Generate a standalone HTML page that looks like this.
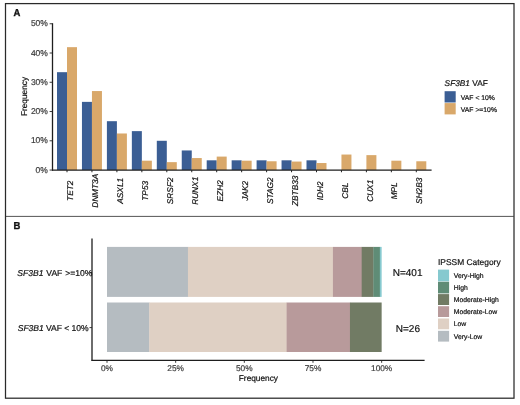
<!DOCTYPE html>
<html lang="en"><head><meta charset="utf-8"><title>SF3B1 VAF figure</title>
<style>html,body{margin:0;padding:0;background:#fff;}body{width:520px;height:405px;overflow:hidden;}svg{display:block;}text{font-family:"Liberation Sans",Arial,Helvetica,sans-serif;text-rendering:geometricPrecision;}</style></head><body>
<svg width="520" height="405" viewBox="0 0 520 405" style="will-change:transform;opacity:0.999">
<rect x="0" y="0" width="520" height="405" fill="#ffffff"/>
<rect x="5.5" y="3.6" width="508.5" height="394.6" fill="none" stroke="#2a2a2a" stroke-width="1.25"/>
<line x1="5.5" y1="216.4" x2="513.8" y2="216.4" stroke="#2a2a2a" stroke-width="0.8"/>
<text transform="translate(13.5,16.4) scale(0.94,1)" font-size="10.1" font-weight="700" fill="#111" stroke="#111" stroke-width="0.35">A</text>
<text transform="translate(13.4,228.7) scale(0.94,1)" font-size="10.1" font-weight="700" fill="#111" stroke="#111" stroke-width="0.35">B</text>
<rect x="57.00" y="72.18" width="10" height="97.87" fill="#3b5e94"/>
<rect x="67.00" y="47.16" width="10" height="122.89" fill="#d9a86a"/>
<rect x="81.95" y="101.87" width="10" height="68.18" fill="#3b5e94"/>
<rect x="91.95" y="91.05" width="10" height="79.00" fill="#d9a86a"/>
<rect x="106.90" y="121.19" width="10" height="48.86" fill="#3b5e94"/>
<rect x="116.90" y="133.48" width="10" height="36.58" fill="#d9a86a"/>
<rect x="131.85" y="131.13" width="10" height="38.92" fill="#3b5e94"/>
<rect x="141.85" y="160.69" width="10" height="9.36" fill="#d9a86a"/>
<rect x="156.80" y="140.79" width="10" height="29.26" fill="#3b5e94"/>
<rect x="166.80" y="162.15" width="10" height="7.90" fill="#d9a86a"/>
<rect x="181.75" y="150.45" width="10" height="19.60" fill="#3b5e94"/>
<rect x="191.75" y="158.05" width="10" height="12.00" fill="#d9a86a"/>
<rect x="206.70" y="160.31" width="10" height="9.74" fill="#3b5e94"/>
<rect x="216.70" y="156.59" width="10" height="13.46" fill="#d9a86a"/>
<rect x="231.65" y="160.31" width="10" height="9.74" fill="#3b5e94"/>
<rect x="241.65" y="160.69" width="10" height="9.36" fill="#d9a86a"/>
<rect x="256.60" y="160.31" width="10" height="9.74" fill="#3b5e94"/>
<rect x="266.60" y="161.27" width="10" height="8.78" fill="#d9a86a"/>
<rect x="281.55" y="160.31" width="10" height="9.74" fill="#3b5e94"/>
<rect x="291.55" y="161.56" width="10" height="8.49" fill="#d9a86a"/>
<rect x="306.50" y="160.31" width="10" height="9.74" fill="#3b5e94"/>
<rect x="316.50" y="163.03" width="10" height="7.02" fill="#d9a86a"/>
<rect x="341.45" y="154.54" width="10" height="15.51" fill="#d9a86a"/>
<rect x="366.40" y="155.13" width="10" height="14.92" fill="#d9a86a"/>
<rect x="391.35" y="160.69" width="10" height="9.36" fill="#d9a86a"/>
<rect x="416.30" y="161.27" width="10" height="8.78" fill="#d9a86a"/>
<line x1="52.5" y1="23.2" x2="52.5" y2="170.65" stroke="#1e1e1e" stroke-width="1.3"/>
<line x1="52" y1="170.05" x2="431.6" y2="170.05" stroke="#1e1e1e" stroke-width="1.35"/>
<line x1="49.6" y1="170.05" x2="52.5" y2="170.05" stroke="#222" stroke-width="0.9"/>
<text x="47.9" y="172.70" font-size="8.5" text-anchor="end" fill="#3c3c3c" stroke="#3c3c3c" stroke-width="0.2">0%</text>
<line x1="49.6" y1="140.79" x2="52.5" y2="140.79" stroke="#222" stroke-width="0.9"/>
<text x="47.9" y="143.44" font-size="8.5" text-anchor="end" fill="#3c3c3c" stroke="#3c3c3c" stroke-width="0.2">10%</text>
<line x1="49.6" y1="111.53" x2="52.5" y2="111.53" stroke="#222" stroke-width="0.9"/>
<text x="47.9" y="114.18" font-size="8.5" text-anchor="end" fill="#3c3c3c" stroke="#3c3c3c" stroke-width="0.2">20%</text>
<line x1="49.6" y1="82.27" x2="52.5" y2="82.27" stroke="#222" stroke-width="0.9"/>
<text x="47.9" y="84.92" font-size="8.5" text-anchor="end" fill="#3c3c3c" stroke="#3c3c3c" stroke-width="0.2">30%</text>
<line x1="49.6" y1="53.01" x2="52.5" y2="53.01" stroke="#222" stroke-width="0.9"/>
<text x="47.9" y="55.66" font-size="8.5" text-anchor="end" fill="#3c3c3c" stroke="#3c3c3c" stroke-width="0.2">40%</text>
<line x1="49.6" y1="23.75" x2="52.5" y2="23.75" stroke="#222" stroke-width="0.9"/>
<text x="47.9" y="26.40" font-size="8.5" text-anchor="end" fill="#3c3c3c" stroke="#3c3c3c" stroke-width="0.2">50%</text>
<line x1="67.00" y1="170.05" x2="67.00" y2="172.25" stroke="#222" stroke-width="1"/>
<text transform="translate(73.10,190.8) rotate(-90)" font-size="8.3" font-style="italic" text-anchor="middle" fill="#111" stroke="#111" stroke-width="0.2">TET2</text>
<line x1="91.95" y1="170.05" x2="91.95" y2="172.25" stroke="#222" stroke-width="1"/>
<text transform="translate(98.05,190.8) rotate(-90)" font-size="8.3" font-style="italic" text-anchor="middle" fill="#111" stroke="#111" stroke-width="0.2">DNMT3A</text>
<line x1="116.90" y1="170.05" x2="116.90" y2="172.25" stroke="#222" stroke-width="1"/>
<text transform="translate(123.00,190.8) rotate(-90)" font-size="8.3" font-style="italic" text-anchor="middle" fill="#111" stroke="#111" stroke-width="0.2">ASXL1</text>
<line x1="141.85" y1="170.05" x2="141.85" y2="172.25" stroke="#222" stroke-width="1"/>
<text transform="translate(147.95,190.8) rotate(-90)" font-size="8.3" font-style="italic" text-anchor="middle" fill="#111" stroke="#111" stroke-width="0.2">TP53</text>
<line x1="166.80" y1="170.05" x2="166.80" y2="172.25" stroke="#222" stroke-width="1"/>
<text transform="translate(172.90,190.8) rotate(-90)" font-size="8.3" font-style="italic" text-anchor="middle" fill="#111" stroke="#111" stroke-width="0.2">SRSF2</text>
<line x1="191.75" y1="170.05" x2="191.75" y2="172.25" stroke="#222" stroke-width="1"/>
<text transform="translate(197.85,190.8) rotate(-90)" font-size="8.3" font-style="italic" text-anchor="middle" fill="#111" stroke="#111" stroke-width="0.2">RUNX1</text>
<line x1="216.70" y1="170.05" x2="216.70" y2="172.25" stroke="#222" stroke-width="1"/>
<text transform="translate(222.80,190.8) rotate(-90)" font-size="8.3" font-style="italic" text-anchor="middle" fill="#111" stroke="#111" stroke-width="0.2">EZH2</text>
<line x1="241.65" y1="170.05" x2="241.65" y2="172.25" stroke="#222" stroke-width="1"/>
<text transform="translate(247.75,190.8) rotate(-90)" font-size="8.3" font-style="italic" text-anchor="middle" fill="#111" stroke="#111" stroke-width="0.2">JAK2</text>
<line x1="266.60" y1="170.05" x2="266.60" y2="172.25" stroke="#222" stroke-width="1"/>
<text transform="translate(272.70,190.8) rotate(-90)" font-size="8.3" font-style="italic" text-anchor="middle" fill="#111" stroke="#111" stroke-width="0.2">STAG2</text>
<line x1="291.55" y1="170.05" x2="291.55" y2="172.25" stroke="#222" stroke-width="1"/>
<text transform="translate(297.65,190.8) rotate(-90)" font-size="8.3" font-style="italic" text-anchor="middle" fill="#111" stroke="#111" stroke-width="0.2">ZBTB33</text>
<line x1="316.50" y1="170.05" x2="316.50" y2="172.25" stroke="#222" stroke-width="1"/>
<text transform="translate(322.60,190.8) rotate(-90)" font-size="8.3" font-style="italic" text-anchor="middle" fill="#111" stroke="#111" stroke-width="0.2">IDH2</text>
<line x1="341.45" y1="170.05" x2="341.45" y2="172.25" stroke="#222" stroke-width="1"/>
<text transform="translate(347.55,190.8) rotate(-90)" font-size="8.3" font-style="italic" text-anchor="middle" fill="#111" stroke="#111" stroke-width="0.2">CBL</text>
<line x1="366.40" y1="170.05" x2="366.40" y2="172.25" stroke="#222" stroke-width="1"/>
<text transform="translate(372.50,190.8) rotate(-90)" font-size="8.3" font-style="italic" text-anchor="middle" fill="#111" stroke="#111" stroke-width="0.2">CUX1</text>
<line x1="391.35" y1="170.05" x2="391.35" y2="172.25" stroke="#222" stroke-width="1"/>
<text transform="translate(397.45,190.8) rotate(-90)" font-size="8.3" font-style="italic" text-anchor="middle" fill="#111" stroke="#111" stroke-width="0.2">MPL</text>
<line x1="416.30" y1="170.05" x2="416.30" y2="172.25" stroke="#222" stroke-width="1"/>
<text transform="translate(422.40,190.8) rotate(-90)" font-size="8.3" font-style="italic" text-anchor="middle" fill="#111" stroke="#111" stroke-width="0.2">SH2B3</text>
<text transform="translate(26.6,96.5) rotate(-90)" font-size="8.3" text-anchor="middle" fill="#111" stroke="#111" stroke-width="0.2">Frequency</text>
<text x="444.6" y="86.4" font-size="8.3" fill="#111" stroke="#111" stroke-width="0.2"><tspan font-style="italic">SF3B1</tspan> VAF</text>
<rect x="444.6" y="91.2" width="11.1" height="11.3" fill="#3b5e94"/>
<rect x="444.6" y="103.1" width="11.1" height="11.3" fill="#d9a86a"/>
<text x="460.8" y="99.6" font-size="6.8" fill="#111" stroke="#111" stroke-width="0.2">VAF &lt; 10%</text>
<text x="460.8" y="111.5" font-size="6.8" fill="#111" stroke="#111" stroke-width="0.2">VAF &gt;=10%</text>
<rect x="107.00" y="246.9" width="81.24" height="50.0" fill="#b5bcc1"/>
<rect x="187.94" y="246.9" width="145.29" height="50.0" fill="#dfd0c4"/>
<rect x="332.93" y="246.9" width="29.06" height="50.0" fill="#b89a9b"/>
<rect x="361.68" y="246.9" width="11.97" height="50.0" fill="#717b64"/>
<rect x="373.36" y="246.9" width="6.81" height="50.0" fill="#5f8c76"/>
<rect x="379.86" y="246.9" width="1.79" height="50.0" fill="#86c9cf"/>
<rect x="107.00" y="302.5" width="42.55" height="49.5" fill="#b5bcc1"/>
<rect x="149.25" y="302.5" width="137.62" height="49.5" fill="#dfd0c4"/>
<rect x="286.58" y="302.5" width="63.68" height="49.5" fill="#b89a9b"/>
<rect x="349.96" y="302.5" width="31.69" height="49.5" fill="#717b64"/>
<line x1="92.0" y1="238.6" x2="92.0" y2="360.9" stroke="#1e1e1e" stroke-width="1.3"/>
<line x1="91.6" y1="360.3" x2="424.6" y2="360.3" stroke="#1e1e1e" stroke-width="1.3"/>
<line x1="107.00" y1="360.3" x2="107.00" y2="362.8" stroke="#222" stroke-width="0.9"/>
<text x="107.00" y="370.9" font-size="8.3" text-anchor="middle" fill="#3c3c3c" stroke="#3c3c3c" stroke-width="0.2">0%</text>
<line x1="175.66" y1="360.3" x2="175.66" y2="362.8" stroke="#222" stroke-width="0.9"/>
<text x="175.66" y="370.9" font-size="8.3" text-anchor="middle" fill="#3c3c3c" stroke="#3c3c3c" stroke-width="0.2">25%</text>
<line x1="244.32" y1="360.3" x2="244.32" y2="362.8" stroke="#222" stroke-width="0.9"/>
<text x="244.32" y="370.9" font-size="8.3" text-anchor="middle" fill="#3c3c3c" stroke="#3c3c3c" stroke-width="0.2">50%</text>
<line x1="312.99" y1="360.3" x2="312.99" y2="362.8" stroke="#222" stroke-width="0.9"/>
<text x="312.99" y="370.9" font-size="8.3" text-anchor="middle" fill="#3c3c3c" stroke="#3c3c3c" stroke-width="0.2">75%</text>
<line x1="381.65" y1="360.3" x2="381.65" y2="362.8" stroke="#222" stroke-width="0.9"/>
<text x="381.65" y="370.9" font-size="8.3" text-anchor="middle" fill="#3c3c3c" stroke="#3c3c3c" stroke-width="0.2">100%</text>
<line x1="89.5" y1="272.6" x2="92.0" y2="272.6" stroke="#222" stroke-width="0.9"/>
<line x1="89.5" y1="327.6" x2="92.0" y2="327.6" stroke="#222" stroke-width="0.9"/>
<text x="17.3" y="276.2" font-size="8.55" word-spacing="0.5" fill="#111" stroke="#111" stroke-width="0.2"><tspan font-style="italic">SF3B1</tspan> VAF &gt;=10%</text>
<text x="17.7" y="331.2" font-size="8.55" word-spacing="-0.15" fill="#111" stroke="#111" stroke-width="0.2"><tspan font-style="italic">SF3B1</tspan> VAF &lt; 10%</text>
<text x="258.4" y="381.2" font-size="8.3" text-anchor="middle" fill="#111" stroke="#111" stroke-width="0.2">Frequency</text>
<text x="407.6" y="276.4" font-size="10.0" text-anchor="middle" fill="#111" stroke="#111" stroke-width="0.2">N=401</text>
<text x="407.9" y="331.9" font-size="10.0" text-anchor="middle" fill="#111" stroke="#111" stroke-width="0.2">N=26</text>
<text x="438" y="265.0" font-size="8.42" fill="#111" stroke="#111" stroke-width="0.2">IPSSM Category</text>
<rect x="438" y="269.60" width="11.1" height="11.8" fill="#86c9cf"/>
<text x="453.8" y="277.80" font-size="6.8" fill="#111" stroke="#111" stroke-width="0.2">Very-High</text>
<rect x="438" y="281.80" width="11.1" height="11.6" fill="#5f8c76"/>
<text x="453.8" y="289.50" font-size="6.8" fill="#111" stroke="#111" stroke-width="0.2">High</text>
<rect x="438" y="294.10" width="11.1" height="10.9" fill="#717b64"/>
<text x="453.8" y="301.80" font-size="6.8" fill="#111" stroke="#111" stroke-width="0.2">Moderate-High</text>
<rect x="438" y="306.20" width="11.1" height="10.8" fill="#b89a9b"/>
<text x="453.8" y="314.10" font-size="6.8" fill="#111" stroke="#111" stroke-width="0.2">Moderate-Low</text>
<rect x="438" y="318.50" width="11.1" height="10.8" fill="#dfd0c4"/>
<text x="453.8" y="326.40" font-size="6.8" fill="#111" stroke="#111" stroke-width="0.2">Low</text>
<rect x="438" y="330.80" width="11.1" height="10.8" fill="#b5bcc1"/>
<text x="453.8" y="338.70" font-size="6.8" fill="#111" stroke="#111" stroke-width="0.2">Very-Low</text>
</svg></body></html>
